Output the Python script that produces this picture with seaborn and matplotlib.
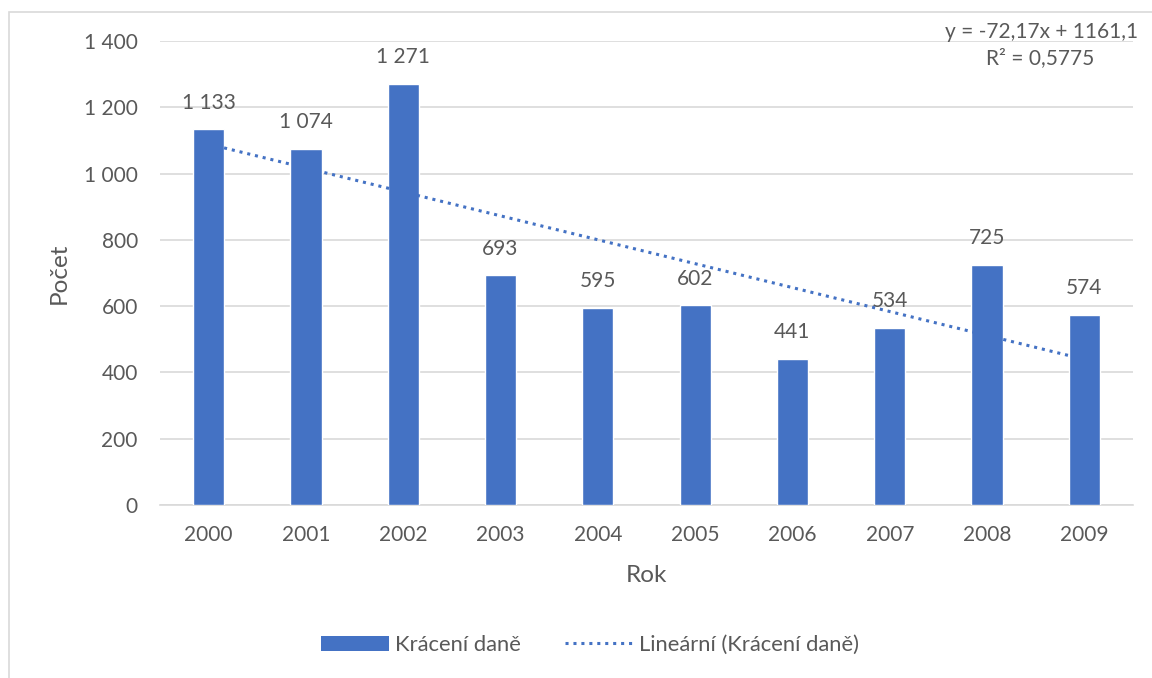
import matplotlib
matplotlib.use("Agg")
import matplotlib.pyplot as plt
import matplotlib.ticker as mticker
from matplotlib.patches import Patch, Rectangle
from matplotlib.lines import Line2D
import numpy as np
import pandas as pd
import seaborn as sns

years = ["2000", "2001", "2002", "2003", "2004", "2005", "2006", "2007", "2008", "2009"]
values = [1133, 1074, 1271, 693, 595, 602, 441, 534, 725, 574]
series_name = "Krácení daně"
trend_name = "Lineární (Krácení daně)"
equation = "y = -72,17x + 1161,1"
r2_text = "R² = 0,5775"

sns.set_theme(style="white")
plt.rcParams["font.family"] = ["Lato", "DejaVu Sans"]

BAR = "#4472C4"
TXT = "#595959"
GRID = "#D9D9D9"

df = pd.DataFrame({"Rok": years, "Počet": values})

fig = plt.figure(figsize=(11.52, 6.78), dpi=100)
ax = fig.add_axes([160/1152, 1-505/678, (1133-160)/1152, (505-41)/678])

sns.barplot(data=df, x="Rok", y="Počet", color=BAR, width=0.32, saturation=1, ax=ax, zorder=3)

# linear trend
xs = np.arange(1, len(values)+1)
k, q = np.polyfit(xs, values, 1)
trend = k*xs + q
ax.plot(np.arange(len(values)), trend, linestyle=(0, (1, 1.6)), color=BAR, lw=2.2, zorder=4)

ax.set_ylim(0, 1400)
ax.set_xlim(-0.5, len(values)-0.5)
ax.yaxis.set_major_locator(mticker.MultipleLocator(200))
ax.yaxis.set_major_formatter(mticker.FuncFormatter(lambda v, p: f"{int(v):,}".replace(",", " ")))
ax.grid(axis="y", color=GRID, lw=1.2, zorder=0)
for s in ["top", "right", "left"]:
    ax.spines[s].set_visible(False)
ax.spines["bottom"].set_color(GRID)
ax.spines["bottom"].set_linewidth(1.2)
ax.tick_params(axis="both", colors=TXT, labelsize=15, length=0)
ax.tick_params(axis="x", pad=14.5)
ax.tick_params(axis="y", pad=16)

ax.set_xlabel("Rok", color=TXT, fontsize=17.5, labelpad=14)
ax.set_ylabel("Počet", color=TXT, fontsize=17.5, labelpad=10)

for i, v in enumerate(values):
    ax.annotate(f"{v:,}".replace(",", " "), (i, v), xytext=(0, 12), textcoords="offset points",
                ha="center", va="bottom", color=TXT, fontsize=15)

fig.text(1138/1152, 1-32/678, equation, ha="right", va="center", color=TXT, fontsize=15)
fig.text(1094/1152, 1-58/678, r2_text, ha="right", va="center", color=TXT, fontsize=15)

handles = [Patch(facecolor=BAR, edgecolor="none"),
           Line2D([0], [0], color=BAR, linestyle=(0, (1, 1.6)), lw=2.2)]
fig.legend(handles, [series_name, trend_name], loc="center", bbox_to_anchor=(590/1152, 1-645/678),
           ncol=2, frameon=False, fontsize=15.8, labelcolor=TXT, handlelength=3.1,
           handleheight=0.65, columnspacing=2.0, handletextpad=0.3)

fig.patches.append(Rectangle((9/1152, -0.05), 1.2, 1-12/678+0.05, transform=fig.transFigure,
                             fill=False, edgecolor=GRID, lw=1.2, zorder=0))

fig.savefig("out.png", dpi=100)
